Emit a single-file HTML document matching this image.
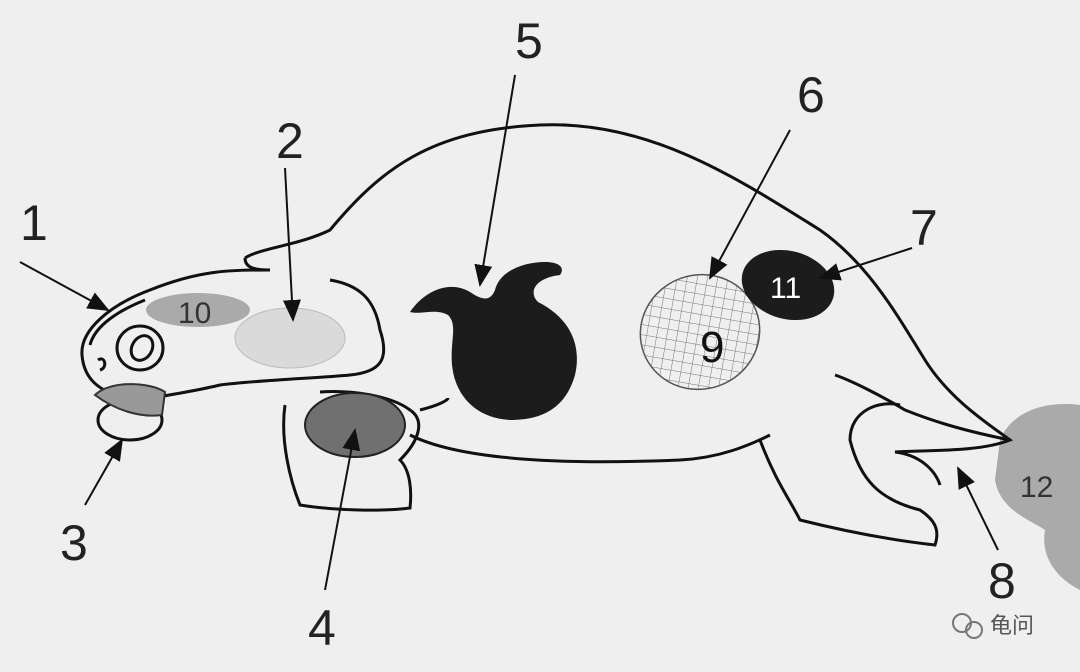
<!DOCTYPE html>
<html><head><meta charset="utf-8"><style>
html,body{margin:0;padding:0;background:#efefef;}
svg{display:block;}
text{font-family:"Liberation Sans","Noto Sans CJK SC",sans-serif;}
</style></head><body>
<svg width="1080" height="672" viewBox="0 0 1080 672">
<defs>
<marker id="ahb" markerWidth="22" markerHeight="22" refX="20" refY="11" orient="auto" markerUnits="userSpaceOnUse" viewBox="0 0 22 22">
<path d="M0,2 L22,11 L0,20 z" fill="#111"/></marker>
<pattern id="hatch" width="10" height="10" patternUnits="userSpaceOnUse" patternTransform="rotate(30)">
<path d="M0,0 L0,10 M0,0 L10,0" stroke="#777" stroke-width="1"/></pattern>
</defs>
<rect width="1080" height="672" fill="#efefef"/>
<path d="M1000,440 C1010,415 1040,400 1080,405 L1080,590 C1060,580 1040,560 1045,530 C1030,520 1000,510 995,480 Z" fill="#aaa"/>
<text x="1020" y="497" font-size="30" fill="#333">12</text>
<g fill="none" stroke="#111" stroke-width="3">
<path d="M245,258 C260,248 300,245 330,230 C380,170 430,130 540,125 C650,120 740,180 820,230 C870,265 900,320 925,360 C950,400 990,425 1010,440 C980,452 930,450 895,452" />
<path d="M245,258 C245,268 255,270 270,270"/>
<path d="M270,270 C230,270 200,270 150,290 C110,305 80,330 82,355 C84,380 100,395 140,400 C170,395 200,390 220,385 C260,380 320,378 350,375 C380,372 390,360 380,330 C375,300 360,285 330,280"/>
<path d="M145,300 C120,310 95,325 90,345"/>
<ellipse cx="140" cy="348" rx="23" ry="22"/>
<ellipse cx="142" cy="348" rx="10" ry="13" transform="rotate(30 142 348)"/>
<path d="M98,360 C105,355 108,368 100,370"/>
<ellipse cx="130" cy="420" rx="32" ry="20"/>
<path d="M285,405 C280,440 290,480 300,505 C330,510 380,512 410,508 C412,490 410,470 400,460 C420,440 425,420 410,410 C390,395 350,390 320,392"/>
<path d="M420,410 C440,405 448,400 448,398"/>
<path d="M410,435 C460,460 560,465 680,460 C720,458 750,445 770,435"/>
<path d="M760,440 C775,480 790,500 800,520 C840,530 890,540 935,545 C940,530 935,520 920,510 C880,500 860,480 850,440 C850,410 880,400 900,405"/>
<path d="M835,375 C850,380 880,395 905,410 C930,420 960,430 1010,440"/>
<path d="M895,452 C920,455 935,470 940,485"/>
</g>
<ellipse cx="198" cy="310" rx="52" ry="17" fill="#aaa"/>
<text x="178" y="323" font-size="30" fill="#333">10</text>
<ellipse cx="290" cy="338" rx="55" ry="30" fill="#dadada" stroke="#bbb"/>
<path d="M95,395 C110,380 150,382 165,392 L162,415 C140,418 115,410 95,395Z" fill="#999" stroke="#333" stroke-width="2"/>
<ellipse cx="355" cy="425" rx="50" ry="32" fill="#707070" stroke="#222" stroke-width="2"/>
<path d="M410,312 C425,290 450,280 470,292 C482,300 490,302 495,290 C500,270 525,262 545,262 C560,262 565,268 560,275 C535,278 528,292 538,302 C570,318 582,345 575,375 C565,410 540,420 510,420 C475,418 455,395 452,365 C450,340 458,325 448,315 C435,308 422,315 410,312Z" fill="#1c1c1c"/>
<ellipse cx="700" cy="332" rx="60" ry="57" fill="url(#hatch)" stroke="#555" stroke-width="1.5" transform="rotate(-20 700 332)"/>
<text x="700" y="362" font-size="44" fill="#111">9</text>
<ellipse cx="788" cy="285" rx="47" ry="34" fill="#1c1c1c" transform="rotate(15 788 285)"/>
<text x="770" y="298" font-size="30" fill="#fff">11</text>
<g stroke="#111" stroke-width="2">
<line x1="20" y1="262" x2="108" y2="310" marker-end="url(#ahb)"/>
<line x1="285" y1="168" x2="293" y2="320" marker-end="url(#ahb)"/>
<line x1="85" y1="505" x2="122" y2="440" marker-end="url(#ahb)"/>
<line x1="325" y1="590" x2="355" y2="430" marker-end="url(#ahb)"/>
<line x1="515" y1="75" x2="480" y2="285" marker-end="url(#ahb)"/>
<line x1="790" y1="130" x2="710" y2="278" marker-end="url(#ahb)"/>
<line x1="912" y1="248" x2="820" y2="278" marker-end="url(#ahb)"/>
<line x1="998" y1="550" x2="958" y2="468" marker-end="url(#ahb)"/>
</g>
<g font-size="50" fill="#222">
<text x="20" y="240">1</text>
<text x="276" y="158">2</text>
<text x="60" y="560">3</text>
<text x="308" y="645">4</text>
<text x="515" y="58">5</text>
<text x="797" y="112">6</text>
<text x="910" y="245">7</text>
<text x="988" y="598">8</text>
</g>
<g>
<circle cx="962" cy="623" r="9" fill="none" stroke="#777" stroke-width="2"/>
<circle cx="974" cy="630" r="8" fill="none" stroke="#777" stroke-width="2"/>
<text x="990" y="633" font-size="22" fill="#555">龟问</text>
</g>
</svg>
</body></html>
